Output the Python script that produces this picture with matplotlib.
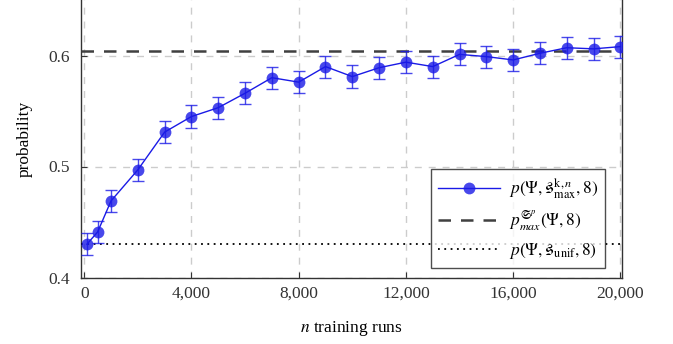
import matplotlib
matplotlib.use("Agg")
import matplotlib.pyplot as plt
from matplotlib.lines import Line2D
from matplotlib.ticker import StrMethodFormatter

plt.rcParams["font.family"] = ["Liberation Serif", "DejaVu Serif"]
plt.rcParams["mathtext.fontset"] = "stix"

# data
runs = [100, 500, 1000, 2000, 3000, 4000, 5000, 6000, 7000, 8000, 9000, 10000,
        11000, 12000, 13000, 14000, 15000, 16000, 17000, 18000, 19000, 20000]
prob = [0.430, 0.441, 0.469, 0.497, 0.531, 0.545, 0.553, 0.566, 0.580, 0.576, 0.590, 0.581,
        0.589, 0.594, 0.590, 0.601, 0.599, 0.596, 0.602, 0.607, 0.606, 0.608]
err = [0.010, 0.010, 0.010, 0.010, 0.010, 0.010, 0.010, 0.010, 0.010, 0.010, 0.010, 0.010,
       0.010, 0.010, 0.010, 0.010, 0.010, 0.010, 0.010, 0.010, 0.010, 0.010]
p_max = 0.6045
p_unif = 0.430

labels = [r"$p(\Psi, \mathfrak{s}^{\mathrm{k},n}_{\mathrm{max}}, 8)$",
          r"$p^{\mathfrak{S}^{p}}_{max}(\Psi, 8)$",
          r"$p(\Psi, \mathfrak{s}_{\mathrm{unif}}, 8)$"]

blue = "#1a1ae6"
blue_a = (0.1, 0.1, 0.9, 0.8)

fig = plt.figure(figsize=(6.73, 3.44), dpi=100)
ax = fig.add_axes([81 / 673, 1 - 277.5 / 344, 541 / 673, 277.5 / 344])

# main series with error bars
ax.errorbar(runs, prob, yerr=err, color=blue, lw=1.0, marker="o", ms=8.5,
            mfc=blue_a, mec="none", elinewidth=1.0, capsize=4.5, capthick=1.0,
            ecolor=blue_a, zorder=4)
ax.axhline(p_max, color="#404040", lw=1.8, ls=(0, (5, 4)), zorder=3)
ax.axhline(p_unif, color="black", lw=1.3, ls=(0, (1, 2.5)), zorder=3)

# axes settings
ax.set_xlim(-120, 20060)
ax.set_ylim(0.4, 0.65)
ax.set_xticks(range(0, 20001, 4000))
ax.set_yticks([0.4, 0.5, 0.6])
ax.xaxis.set_major_formatter(StrMethodFormatter("{x:,.0f}"))
ax.yaxis.set_major_formatter(StrMethodFormatter("{x:.1f}"))
ax.tick_params(direction="in", length=4, labelsize=12.5, colors="#333333")
ax.tick_params(axis="y", pad=8)
ax.tick_params(axis="x", pad=6)
ax.grid(True, color="#cccccc", ls=(0, (5, 5)), lw=1.0)
ax.set_axisbelow(True)
ax.spines["top"].set_visible(False)
for s in ["left", "right", "bottom"]:
    ax.spines[s].set_color("#333333")
    ax.spines[s].set_linewidth(1.0)

ax.set_xlabel(r"$n$ training runs", fontsize=12.5, labelpad=12)
ax.set_ylabel("probability", fontsize=12.5, labelpad=11)

# legend, same order as the reference, plain line+marker handle
handles = [Line2D([], [], color=blue, lw=1.0, marker="o", ms=8.5, mfc=blue_a, mec="none"),
           Line2D([], [], color="#404040", lw=1.8, ls=(0, (5, 4))),
           Line2D([], [], color="black", lw=1.3, ls=(0, (1, 2.5)))]
leg = ax.legend(handles, labels, loc="lower right", bbox_to_anchor=(0.969, 0.034),
                borderaxespad=0, fancybox=False, edgecolor="#222222", fontsize=12.5,
                handlelength=3.6, handletextpad=0.5, labelspacing=0.45, framealpha=0.8)
leg.get_frame().set_linewidth(1.0)

fig.savefig("out.png", dpi=100)
